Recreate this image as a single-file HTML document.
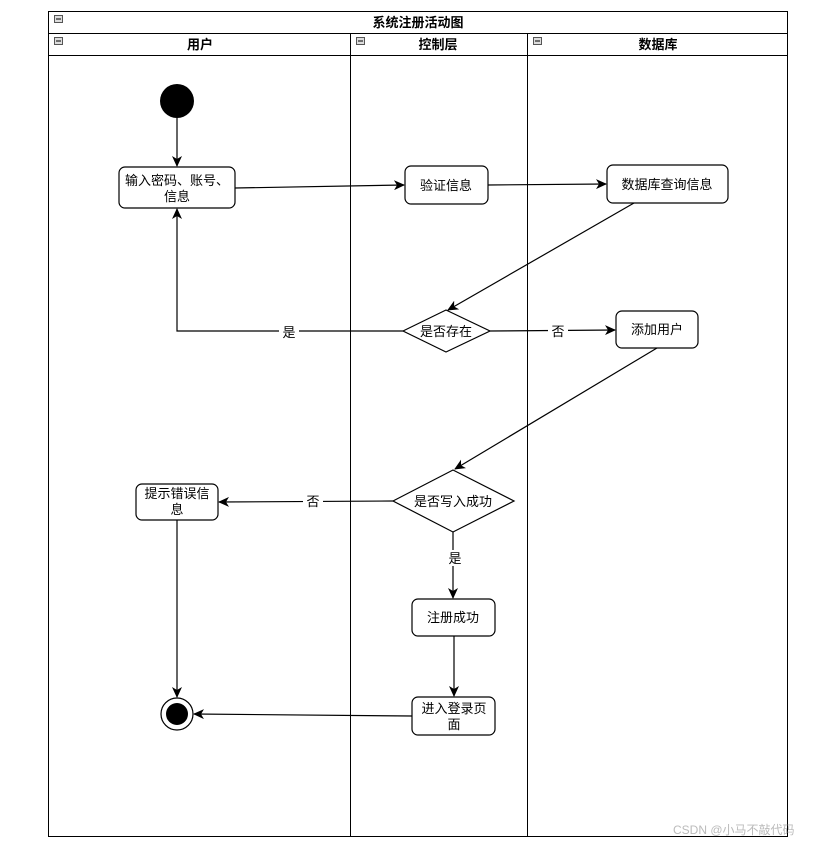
<!DOCTYPE html>
<html><head><meta charset="utf-8"><style>
body{margin:0;background:#fff;width:833px;height:845px;overflow:hidden}
text{font-family:"Liberation Sans","Noto Sans CJK SC",sans-serif;font-size:13px;fill:#000}
</style></head><body>
<svg width="833" height="845" viewBox="0 0 833 845" xmlns="http://www.w3.org/2000/svg">
<defs><marker id="a" markerWidth="12" markerHeight="10" refX="10" refY="5" orient="auto" markerUnits="userSpaceOnUse"><path d="M0,0 L11,5 L0,10 L3,5 Z" fill="#000"/></marker></defs>
<rect x="48.5" y="11.5" width="739" height="825" fill="#fff" stroke="#000"/>
<line x1="48" y1="33.5" x2="787" y2="33.5" stroke="#000"/>
<line x1="48" y1="55.5" x2="787" y2="55.5" stroke="#000"/>
<line x1="350.5" y1="33" x2="350.5" y2="836" stroke="#000"/>
<line x1="527.5" y1="33" x2="527.5" y2="836" stroke="#000"/>
<g fill="#ddd" stroke="#555"><rect x="54.5" y="15.5" width="8" height="7"/><rect x="54.5" y="37.5" width="8" height="7"/><rect x="356.5" y="37.5" width="8" height="7"/><rect x="533.5" y="37.5" width="8" height="7"/></g>
<g stroke="#000"><line x1="56" y1="19" x2="61" y2="19"/><line x1="56" y1="41" x2="61" y2="41"/><line x1="358" y1="41" x2="363" y2="41"/><line x1="535" y1="41" x2="540" y2="41"/></g>
<g font-weight="bold" text-anchor="middle"><text x="418" y="27" font-weight="bold">系统注册活动图</text><text x="200" y="49" font-weight="bold">用户</text><text x="438" y="49" font-weight="bold">控制层</text><text x="658" y="49" font-weight="bold">数据库</text></g>

<circle cx="177" cy="101" r="17" fill="#000"/>
<g fill="none" stroke="#000" stroke-width="1.2">
<line x1="177" y1="118" x2="177" y2="166" marker-end="url(#a)"/>
<line x1="235" y1="188" x2="404" y2="185" marker-end="url(#a)"/>
<line x1="488" y1="185" x2="606" y2="184" marker-end="url(#a)"/>
<line x1="634" y1="203" x2="448" y2="310" marker-end="url(#a)"/>
<polyline points="403,331 177,331 177,209" marker-end="url(#a)"/>
<line x1="490" y1="331" x2="615" y2="330" marker-end="url(#a)"/>
<line x1="657" y1="348" x2="455" y2="469" marker-end="url(#a)"/>
<line x1="393" y1="501" x2="219" y2="502" marker-end="url(#a)"/>
<line x1="453" y1="532" x2="453" y2="598" marker-end="url(#a)"/>
<line x1="454" y1="636" x2="454" y2="696" marker-end="url(#a)"/>
<line x1="412" y1="716" x2="194" y2="714" marker-end="url(#a)"/>
<line x1="177" y1="520" x2="177" y2="697" marker-end="url(#a)"/>
</g>
<g fill="#fff" stroke="#000" stroke-width="1.2">
<rect x="119" y="167" width="116" height="41" rx="6"/>
<rect x="405" y="166" width="83" height="38" rx="6"/>
<rect x="607" y="165" width="121" height="38" rx="6"/>
<polygon points="403,331 446,310 490,331 446,352"/>
<rect x="616" y="311" width="82" height="37" rx="6"/>
<polygon points="393,501 453,470 514,501 453,532"/>
<rect x="136" y="484" width="82" height="36" rx="6"/>
<rect x="412" y="599" width="83" height="37" rx="6"/>
<rect x="412" y="697" width="83" height="38" rx="6"/>
</g>
<circle cx="177" cy="714" r="16" fill="#fff" stroke="#000" stroke-width="1.2"/>
<circle cx="177" cy="714" r="11" fill="#000"/>
<rect x="279" y="324" width="20" height="16" fill="#fff"/><rect x="548" y="323" width="20" height="16" fill="#fff"/>
<rect x="303" y="493" width="20" height="16" fill="#fff"/><rect x="445" y="550" width="20" height="16" fill="#fff"/>
<g text-anchor="middle">
<text x="177" y="185">输入密码、账号、</text><text x="177" y="201">信息</text>
<text x="446" y="190">验证信息</text>
<text x="667" y="189">数据库查询信息</text>
<text x="446" y="336">是否存在</text>
<text x="657" y="334">添加用户</text>
<text x="453" y="506">是否写入成功</text>
<text x="177" y="498">提示错误信</text><text x="177" y="514">息</text>
<text x="453" y="622">注册成功</text>
<text x="454" y="713">进入登录页</text><text x="454" y="729">面</text>
<text x="289" y="337">是</text><text x="558" y="336">否</text>
<text x="313" y="506">否</text><text x="455" y="563">是</text>
</g>
<text x="673" y="834" style="fill:#bbb;font-size:12px">CSDN @小马不敲代码</text>
</svg>
</body></html>
